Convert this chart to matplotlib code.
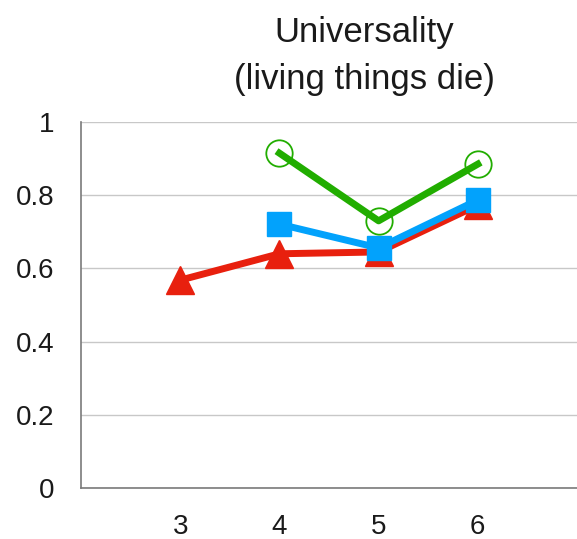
import matplotlib.pyplot as plt

# ages and proportion of children answering correctly
ages_red = [3, 4, 5, 6]
vals_red = [0.568, 0.640, 0.645, 0.773]
ages_blue = [4, 5, 6]
vals_blue = [0.721, 0.656, 0.787]
ages_green = [4, 5, 6]
vals_green = [0.915, 0.730, 0.885]

y_ticks = [0, 0.2, 0.4, 0.6, 0.8, 1.0]
y_labels = ['0', '0.2', '0.4', '0.6', '0.8', '1']
x_ticks = [3, 4, 5, 6]

plt.rcParams['font.family'] = ['Liberation Sans', 'DejaVu Sans']

fig = plt.figure(figsize=(5.77, 5.39), dpi=100)
ax = fig.add_axes([0.1404, 0.0946, 0.8596, 0.679])

ax.plot(ages_red, vals_red, color='#e8200e', linewidth=5, marker='^',
        markersize=20, zorder=3)
ax.plot(ages_blue, vals_blue, color='#02a2fc', linewidth=5, marker='s',
        markersize=17, zorder=4)
ax.plot(ages_green, vals_green, color='#21ad00', linewidth=5, marker='o',
        markersize=19, markerfacecolor='none', markeredgewidth=1.3, zorder=5)

ax.set_xlim(2, 7)
ax.set_ylim(0, 1)
ax.set_yticks(y_ticks)
ax.set_yticklabels(y_labels)
ax.set_xticks(x_ticks)
ax.tick_params(length=0, labelsize=20, colors='#1a1a1a')
ax.tick_params(axis='x', pad=19)
ax.tick_params(axis='y', pad=19)

ax.grid(axis='y', color='#c8c8c8', linewidth=1)
ax.set_axisbelow(True)
for side in ['top', 'right']:
    ax.spines[side].set_visible(False)
for side in ['left', 'bottom']:
    ax.spines[side].set_color('#7a7a7a')
    ax.spines[side].set_linewidth(1.2)

# two-line title, baselines placed explicitly
fig.text(0.632, 0.922, 'Universality', ha='center', va='baseline',
         fontsize=25, color='#1a1a1a')
fig.text(0.632, 0.834, '(living things die)', ha='center', va='baseline',
         fontsize=25, color='#1a1a1a')

fig.savefig('out.png', dpi=100)
